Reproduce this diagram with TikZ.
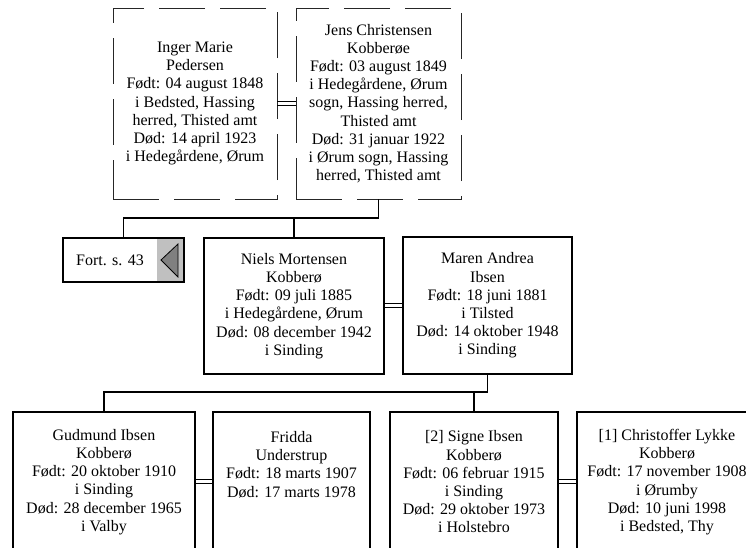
\documentclass[tikz,border=0pt]{standalone}
\usepackage{fontspec}
\setmainfont{Liberation Serif}
\definecolor{btngrey}{HTML}{C0C0C0}
\definecolor{triggrey}{HTML}{808080}
\begin{document}
\begin{tikzpicture}[x=1pt,y=-1pt,
  txt/.style={font=\fontsize{16}{18.2}\selectfont, align=center, text=black},
  dbox/.style={draw=black!85, line width=0.9pt, dash pattern=on 46pt off 15pt, rectangle, inner sep=0pt, txt},
  sbox/.style={draw=black, line width=1.8pt, rectangle, inner sep=0pt, txt},
  conn/.style={draw=black, line width=1.5pt},
  marr/.style={draw=black, line width=1pt}]
\useasboundingbox (0,0) rectangle (746,547);
\clip (0,0) rectangle (746,547);

% grandparents
\node[dbox, minimum width=164pt, minimum height=191pt] (inger) at (195,103.5)
  {Inger Marie\\Pedersen\\Født: 04 august 1848\\i Bedsted, Hassing\\herred, Thisted amt\\Død: 14 april 1923\\i Hedegårdene, Ørum};
\node[dbox, minimum width=165pt, minimum height=191pt] (jens) at (378.5,103.5)
  {Jens Christensen\\Kobberøe\\Født: 03 august 1849\\i Hedegårdene, Ørum\\sogn, Hassing herred,\\Thisted amt\\Død: 31 januar 1922\\i Ørum sogn, Hassing\\herred, Thisted amt};

% parents row
\node[sbox, minimum width=121pt, minimum height=44pt,
  path picture={\fill[btngrey] ([xshift=-27pt]path picture bounding box.north east) rectangle (path picture bounding box.south east);}]
  (fort) at (123.5,260) {};
\node[txt] (forttxt) at (110,260) {Fort. s. 43};
\filldraw[fill=triggrey, draw=black, line width=0.8pt] (161,260) -- (178,244) -- (178,277) -- cycle;

\node[sbox, minimum width=180pt, minimum height=136pt] (niels) at (294,306)
  {Niels Mortensen\\Kobberø\\Født: 09 juli 1885\\i Hedegårdene, Ørum\\Død: 08 december 1942\\i Sinding};
\node[sbox, minimum width=169pt, minimum height=137pt] (maren) at (487.5,305.5)
  {Maren Andrea\\Ibsen\\Født: 18 juni 1881\\i Tilsted\\Død: 14 oktober 1948\\i Sinding};

% children row
\node[sbox, minimum width=182pt, minimum height=148pt] (gudmund) at (104,486) {};
\node[sbox, minimum width=157pt, minimum height=148pt] (fridda) at (291.5,486) {};
\node[sbox, minimum width=168pt, minimum height=148pt] (signe) at (474,486) {};
\node[sbox, minimum width=180pt, minimum height=148pt] (chris) at (667,486) {};
\node[txt] (gtxt) at (104,482) {Gudmund Ibsen\\Kobberø\\Født: 20 oktober 1910\\i Sinding\\Død: 28 december 1965\\i Valby};
\node[txt] (ftxt) at (291.5,464.5) {Fridda\\Understrup\\Født: 18 marts 1907\\Død: 17 marts 1978};
\node[txt] (stxt) at (474,482) {[2] Signe Ibsen\\Kobberø\\Født: 06 februar 1915\\i Sinding\\Død: 29 oktober 1973\\i Holstebro};
\node[txt] (ctxt) at (667,482) {[1] Christoffer Lykke\\Kobberø\\Født: 17 november 1908\\i Ørumby\\Død: 10 juni 1998\\i Bedsted, Thy};

% marriage lines
\draw[marr] (inger.east |- 0,101.5) -- (jens.west |- 0,101.5);
\draw[marr] (inger.east |- 0,105.5) -- (jens.west |- 0,105.5);
\draw[marr] (niels.east |- 0,303) -- (maren.west |- 0,303);
\draw[marr] (niels.east |- 0,307) -- (maren.west |- 0,307);
\draw[marr] (gudmund.east |- 0,479) -- (fridda.west |- 0,479);
\draw[marr] (gudmund.east |- 0,483) -- (fridda.west |- 0,483);
\draw[marr] (signe.east |- 0,479) -- (chris.west |- 0,479);
\draw[marr] (signe.east |- 0,483) -- (chris.west |- 0,483);

% descent connectors
\coordinate (bar1) at (0,218);
\draw[conn] (jens.south) -- (jens.south |- bar1) -| (fort.north);
\draw[conn] (niels.north) -- (niels.north |- bar1);
\coordinate (bar2) at (0,392);
\draw[conn] (maren.south) -- (maren.south |- bar2) -| (gudmund.north);
\draw[conn] (signe.north) -- (signe.north |- bar2);
\end{tikzpicture}
\end{document}
